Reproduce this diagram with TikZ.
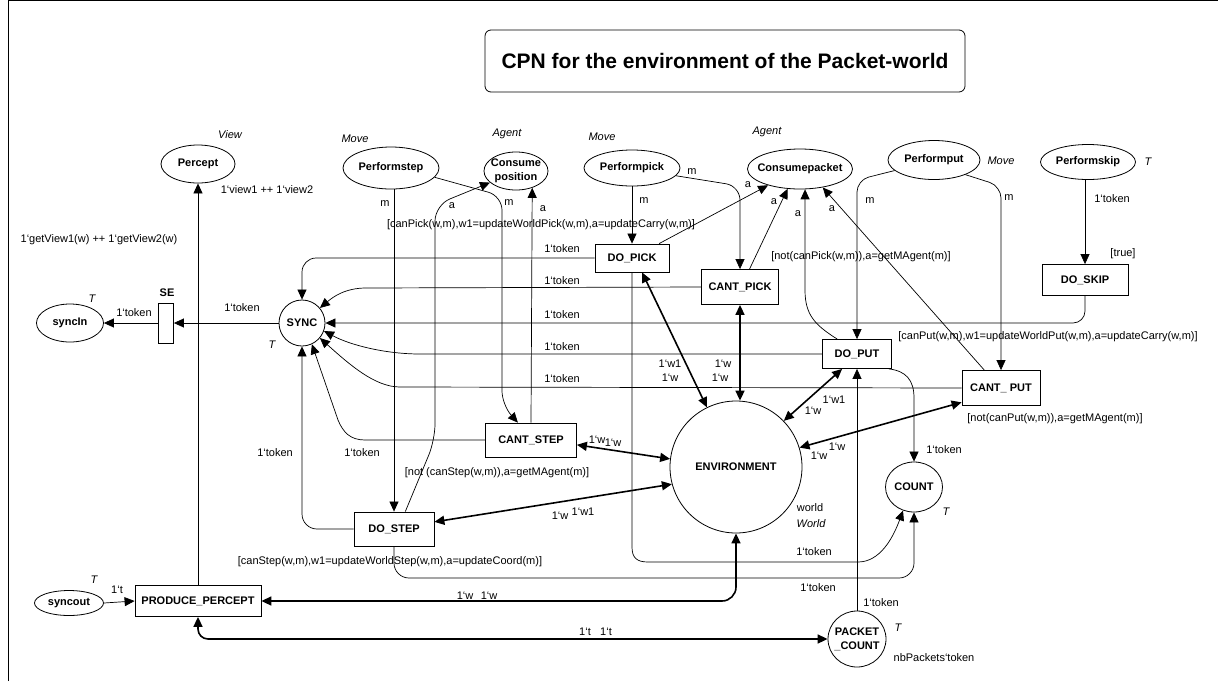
\documentclass[tikz,border=0pt]{standalone}
\usepackage{fontspec}
\setmainfont{Liberation Sans}
\usetikzlibrary{arrows.meta,shapes.geometric}
\begin{document}
\begin{tikzpicture}[x=1pt,y=-1pt,
  txt/.style={font=\fontsize{11}{12}\selectfont, inner sep=0pt},
  ctype/.style={font=\fontsize{11}{12}\selectfont\itshape, inner sep=0pt},
  place/.style={ellipse, draw, line width=0.8pt, inner xsep=-10pt, inner ysep=-3pt, align=center,
    font=\bfseries\fontsize{11}{14}\selectfont},
  trans/.style={rectangle, draw, line width=0.8pt, inner sep=0pt,
    font=\bfseries\fontsize{11}{12}\selectfont},
  arc/.style={line width=0.7pt, -{Triangle[length=10pt,width=9pt]}},
  envarc/.style={line width=1.6pt, {Triangle[length=10pt,width=9pt]}-{Triangle[length=10pt,width=9pt]}},
]
\useasboundingbox (0,0) rectangle (1218,681);
\draw[line width=0.8pt] (8,681) -- (8,0.6) -- (1218,0.6);

% title
\node[draw, rounded corners=6pt, line width=0.8pt, minimum width=480pt, minimum height=62pt,
  inner sep=0pt, font=\bfseries\fontsize{21}{24}\selectfont] (title) at (725,61)
  {CPN for the environment of the Packet-world};

% places
\node[place, minimum width=74pt, minimum height=38pt] (percept) at (198,164) {Percept};
\node[place, minimum width=96pt, minimum height=42pt] (pstep) at (391,168) {Performstep};
\node[place, minimum width=64pt, minimum height=38pt] (cpos) at (516,171) {Consume\\position};
\node[place, minimum width=96pt, minimum height=36pt] (ppick) at (632,168) {Performpick};
\node[place, minimum width=105pt, minimum height=40pt] (cpack) at (800,169) {Consumepacket};
\node[place, minimum width=92pt, minimum height=39pt] (pput) at (934,160) {Performput};
\node[place, minimum width=95pt, minimum height=35pt] (pskip) at (1088,162) {Performskip};
\node[place, minimum width=46pt, minimum height=46pt] (sync) at (302,323) {SYNC};
\node[place, minimum width=67pt, minimum height=38pt] (syncin) at (70,323) {syncIn};
\node[place, minimum width=69pt, minimum height=25pt] (syncout) at (69,603) {syncout};
\node[place, minimum width=132pt, minimum height=132pt] (env) at (736,467) {ENVIRONMENT};
\node[place, minimum width=57pt, minimum height=50pt] (count) at (914,487) {COUNT};
\node[place, minimum width=58pt, minimum height=56pt] (pc) at (857,639) {PACKET\\\_COUNT};

% transitions
\node[trans, minimum width=15pt, minimum height=40pt] (se) at (166,323) {};
\node[trans, minimum width=74pt, minimum height=28pt] (dopick) at (632,258) {DO\_PICK};
\node[trans, minimum width=77pt, minimum height=35pt] (cantpick) at (740,287) {CANT\_PICK};
\node[trans, minimum width=86pt, minimum height=31pt] (doskip) at (1085,280) {DO\_SKIP};
\node[trans, minimum width=69pt, minimum height=29pt] (doput) at (857,354) {DO\_PUT};
\node[trans, minimum width=78pt, minimum height=35pt] (cantput) at (1001,388) {CANT\_ PUT};
\node[trans, minimum width=91pt, minimum height=34pt] (cantstep) at (531,440) {CANT\_STEP};
\node[trans, minimum width=80pt, minimum height=34pt] (dostep) at (394,529) {DO\_STEP};
\node[trans, minimum width=126pt, minimum height=31pt] (pp) at (198,601) {PRODUCE\_PERCEPT};

% colour sets and markings
\node[ctype] (tview) at (230,135) {View};
\node[ctype] (tpstep) at (355,139) {Move};
\node[ctype] (tcpos) at (507,134) {Agent};
\node[ctype] (tppick) at (602,137) {Move};
\node[ctype] (tcpack) at (767,132) {Agent};
\node[ctype] (tpput) at (1001,161) {Move};
\node[ctype] (tpskip) at (1148,162) {T};
\node[ctype] (tsyncin) at (92,299) {T};
\node[ctype] (tsync) at (272,345) {T};
\node[ctype] (tsyncout) at (94,580) {T};
\node[ctype] (tcount) at (946,512) {T};
\node[ctype] (tpc) at (898,628) {T};
\node[txt] (iworld) at (810,508) {world};
\node[ctype] (tenv) at (811,524) {World};
\node[txt] (ipc) at (934,658) {nbPackets‘token};
\node[txt, font=\bfseries\fontsize{11}{12}\selectfont] (sename) at (167,293) {SE};

% guards
\node[txt] (gdopick) at (541,225) {[canPick(w,m),w1=updateWorldPick(w,m),a=updateCarry(w,m)]};
\node[txt] (gcantpick) at (861,257) {[not(canPick(w,m)),a=getMAgent(m)]};
\node[txt] (gdoskip) at (1123,254) {[true]};
\node[txt] (gdoput) at (1048,337) {[canPut(w,m),w1=updateWorldPut(w,m),a=updateCarry(w,m)]};
\node[txt] (gcantput) at (1055,419) {[not(canPut(w,m)),a=getMAgent(m)]};
\node[txt] (gcantstep) at (497,473) {[not (canStep(w,m)),a=getMAgent(m)]};
\node[txt] (gdostep) at (390,562) {[canStep(w,m),w1=updateWorldStep(w,m),a=updateCoord(m)]};

% arcs around PRODUCE_PERCEPT and SE
\draw[arc] (pp.north) -- (percept.south);
\draw[arc] (sync.west) -- (se.east);
\draw[arc] (se.west) -- (syncin.east);
\draw[arc] (syncout.east) -- (pp.west);

% arcs back to SYNC
\draw[arc, rounded corners=14pt] (dopick.west) -| (sync.north);
\draw[arc] (cantpick.west) -- (366,288) .. controls (345,288) and (333,297) .. (sync.40);
\draw[arc, rounded corners=12pt] (doskip.south) |- (sync.east);
\draw[arc] (doput.west) -- (420,354) .. controls (385,354) and (350,345) .. (sync.-20);
\draw[arc] (cantput.west) -- (400,387) .. controls (375,387) and (350,365) .. (sync.-40);
\draw[arc] (cantstep.west) -- (365,440) .. controls (350,440) and (343,432) .. (338,420) -- (sync.-65);
\draw[arc, rounded corners=15pt] (dostep.west) -| (sync.south);

% step arcs
\draw[arc] (pstep.south -| dostep.north) -- (dostep.north);
\draw[arc, rounded corners=14pt] (pstep.-12) -- (502,196) -- (502,405) -- (cantstep.127);
\draw[arc, rounded corners=16pt] (dostep.57) -- (435,440) -- (435,205) -- (cpos.204);
\draw[arc] (cantstep.north) -- (cpos.-46);

% pick arcs
\draw[arc] (ppick.south) -- (dopick.north);
\draw[arc, rounded corners=14pt] (ppick.-10) -- (740,186) -- (cantpick.north);
\draw[arc] (dopick.28) -- (cpack.207);
\draw[arc] (cantpick.62) -- (cpack.238);

% put arcs
\draw[arc] (doput.143) .. controls (815,325) and (805,315) .. (805,290) -- (cpack.-76);
\draw[arc] (cantput.133) -- (cpack.-39);
\draw[arc, rounded corners=12pt] (pput.195) -- (857,180) -- (doput.north);
\draw[arc, rounded corners=12pt] (pput.-25) -- (1001,186) -- (cantput.north);

% skip arc
\draw[arc] (pskip.south -| doskip.north) -- (doskip.north);

% arcs to and from ENVIRONMENT
\draw[envarc] (dopick.-55) -- (env.116);
\draw[envarc] (cantpick.south) -- (cantpick.south |- env.north);
\draw[envarc] (doput.-135) -- (env.44);
\draw[envarc] (cantput.200) -- (env.17);
\draw[envarc] (cantstep.-6) -- (env.173);
\draw[envarc] (dostep.10) -- (env.195);
\draw[envarc, rounded corners=14pt] (env.south) |- (pp.east);
\draw[envarc, rounded corners=10pt] (pp.south) |- (pc.west);

% COUNT and PACKET_COUNT arcs
\draw[arc] (dopick.south) -- (632,547) .. controls (632,558) and (637,562) .. (648,562)
  -- (858,562) .. controls (880,562) and (893,538) .. (count.-115);
\draw[arc, rounded corners=15pt] (dostep.south) |- (914,578) -- (count.south);
\draw[arc] (doput.-25) .. controls (906,371) and (914,380) .. (914,398) -- (count.north);
\draw[arc] (pc.north) -- (doput.south);

% arc inscriptions
\node[txt] (a1) at (267,190) {1‘view1 ++ 1‘view2};
\node[txt] (a2) at (99,240) {1‘getView1(w) ++ 1‘getView2(w)};
\node[txt] (a3) at (134,313) {1‘token};
\node[txt] (a4) at (242,308) {1‘token};
\node[txt] (a5) at (117,590) {1‘t};
\node[txt] (a6) at (385,204) {m};
\node[txt] (a7) at (509,203) {m};
\node[txt] (a8) at (452,206) {a};
\node[txt] (a9) at (543,209) {a};
\node[txt] (a10) at (644,201) {m};
\node[txt] (a11) at (692,172) {m};
\node[txt] (a12) at (748,185) {a};
\node[txt] (a13) at (774,202) {a};
\node[txt] (a14) at (798,214) {a};
\node[txt] (a15) at (832,209) {a};
\node[txt] (a16) at (870,201) {m};
\node[txt] (a17) at (1009,198) {m};
\node[txt] (a18) at (1112,199) {1‘token};
\node[txt] (a19) at (562,249) {1‘token};
\node[txt] (a20) at (562,281) {1‘token};
\node[txt] (a21) at (562,315) {1‘token};
\node[txt] (a22) at (562,347) {1‘token};
\node[txt] (a23) at (562,379) {1‘token};
\node[txt] (a24) at (362,453) {1‘token};
\node[txt] (a25) at (275,453) {1‘token};
\node[txt] (a26) at (670,364) {1‘w1};
\node[txt] (a27) at (670,378) {1‘w};
\node[txt] (a28) at (723,364) {1‘w};
\node[txt] (a29) at (720,378) {1‘w};
\node[txt] (a30) at (834,400) {1‘w1};
\node[txt] (a31) at (813,411) {1‘w};
\node[txt] (a32) at (837,447) {1‘w};
\node[txt] (a33) at (819,456) {1‘w};
\node[txt] (a34) at (944,450) {1‘token};
\node[txt] (a35) at (597,440) {1‘w};
\node[txt] (a36) at (613,443) {1‘w};
\node[txt] (a37) at (560,516) {1‘w};
\node[txt] (a38) at (583,512) {1‘w1};
\node[txt] (a39) at (814,552) {1‘token};
\node[txt] (a40) at (818,588) {1‘token};
\node[txt] (a41) at (881,603) {1‘token};
\node[txt] (a42) at (465,596) {1‘w};
\node[txt] (a43) at (489,596) {1‘w};
\node[txt] (a44) at (585,632) {1‘t};
\node[txt] (a45) at (606,632) {1‘t};
\end{tikzpicture}
\end{document}
